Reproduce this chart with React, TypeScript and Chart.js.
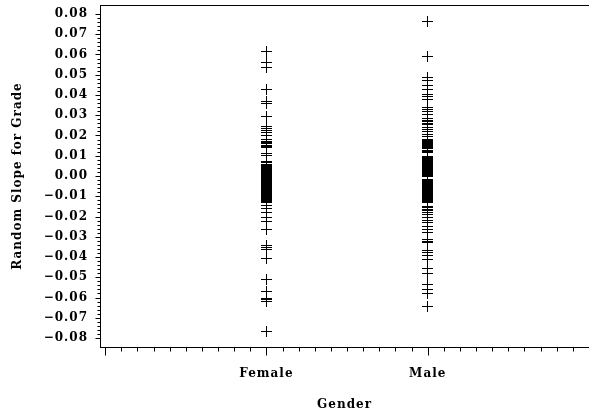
import React, { useEffect, useRef } from "react";
import { Chart, registerables } from "chart.js";

Chart.register(...registerables);

const CATEGORIES = ["Female", "Male"];
const X_TICKS = [1, 2];
const Y_TICKS = [-0.08, -0.07, -0.06, -0.05, -0.04, -0.03, -0.02, -0.01, 0.0, 0.01, 0.02, 0.03, 0.04, 0.05, 0.06, 0.07, 0.08];

const FEMALE = [
  0.0613, 0.0561, 0.0538, 0.0425, 0.0366, 0.036, 0.0296, 0.0245, 0.0236, 0.0226, 0.0213, 0.0198,
  0.018, 0.0172, 0.0165, 0.0159, 0.0152, 0.0146, 0.0141, 0.0111, 0.0101, 0.0072, 0.0066, 0.0058,
  0.0052, 0.0047, 0.0043, 0.0038, 0.0033, 0.0029, 0.0024, 0.0019, 0.0015, 0.001, 0.0006, 0.0001,
  -0.0004, -0.0008, -0.0013, -0.0018, -0.0022, -0.0027, -0.0031, -0.0036, -0.0041, -0.0045, -0.005,
  -0.0055, -0.0059, -0.0064, -0.0069, -0.0073, -0.0078, -0.0083, -0.0087, -0.0092, -0.0097, -0.0101,
  -0.0106, -0.0111, -0.0115, -0.012, -0.0125, -0.0131, -0.0146, -0.0162, -0.0178, -0.0207, -0.0224,
  -0.0262, -0.0344, -0.0352, -0.0364, -0.0405, -0.0513, -0.0571, -0.0603, -0.0612, -0.062, -0.0769,
];

const MALE = [
  0.0762, 0.059, 0.0486, 0.047, 0.0448, 0.0428, 0.0404, 0.0395, 0.0379, 0.0338, 0.033, 0.0318,
  0.0305, 0.0282, 0.0275, 0.0268, 0.026, 0.0255, 0.024, 0.0228, 0.0218, 0.0207, 0.0196,
  0.018, 0.0175, 0.017, 0.0165, 0.016, 0.0154, 0.0149, 0.0144, 0.0139, 0.0134, 0.0128, 0.0122, 0.0116,
  0.0098, 0.0092, 0.0087, 0.0082, 0.0077, 0.0072, 0.0067, 0.0062, 0.0057, 0.0052, 0.0047, 0.0042,
  0.0037, 0.0032, 0.0027, 0.0022, 0.0017, 0.0012, 0.0007, 0.0002, -0.0003, -0.0017, -0.0022, -0.0027,
  -0.0032, -0.0037, -0.0042, -0.0047, -0.0052, -0.0057, -0.0062, -0.0067, -0.0072, -0.0077, -0.0082,
  -0.0087, -0.0092, -0.0097, -0.0102, -0.0107, -0.0112, -0.0117, -0.0122, -0.0127, -0.0131,
  -0.015, -0.0156, -0.0163, -0.017, -0.0178, -0.0192, -0.0205, -0.022, -0.0232, -0.0249, -0.0265,
  -0.028, -0.0315, -0.0322, -0.033, -0.037, -0.038, -0.0392, -0.041, -0.0455, -0.048, -0.0537,
  -0.0562, -0.0578, -0.0645,
];

const FONT = { family: "'DejaVu Serif', serif", size: 12, weight: "bold" as const };

function makePlus(): HTMLCanvasElement {
  const c = document.createElement("canvas");
  c.width = 11;
  c.height = 11;
  const g = c.getContext("2d")!;
  g.fillStyle = "#000";
  g.fillRect(0, 5, 11, 1);
  g.fillRect(5, 0, 1, 11);
  return c;
}

const axisPlugin = {
  id: "sasAxes",
  beforeDraw(chart: any) {
    chart.ctx.letterSpacing = "1px";
  },
  beforeDatasetsDraw(chart: any) {
    chart.ctx.imageSmoothingEnabled = false;
  },
  afterDraw(chart: any) {
    const { ctx, chartArea, scales } = chart;
    const ys = scales.y;
    const xs = scales.x;
    ctx.save();
    ctx.strokeStyle = "#000";
    ctx.lineWidth = 1;
    ctx.beginPath();
    const top = Math.round(chartArea.top) + 0.5;
    ctx.moveTo(chartArea.left, top);
    ctx.lineTo(chartArea.right, top);
    const left = Math.round(chartArea.left) + 0.5;
    for (let k = -40; k <= 40; k++) {
      const py = Math.round(ys.getPixelForValue(k / 500)) + 0.5;
      const len = k % 5 === 0 ? 5 : 3;
      ctx.moveTo(left - len, py);
      ctx.lineTo(left, py);
    }
    const bottom = Math.round(chartArea.bottom) + 0.5;
    for (let k = 0; k <= 30; k++) {
      const px = Math.round(xs.getPixelForValue(k / 10)) + 0.5;
      const len = k % 10 === 0 ? 8 : 4;
      ctx.moveTo(px, bottom);
      ctx.lineTo(px, bottom + len);
    }
    ctx.stroke();
    ctx.restore();
  },
};

export default function App() {
  const ref = useRef<HTMLCanvasElement>(null);
  useEffect(() => {
    if (!ref.current) return;
    const plus = makePlus();
    const pointOpts = {
      pointStyle: plus,
      pointRadius: 5,
      pointHoverRadius: 5,
      pointBorderWidth: 1,
      borderColor: "#000",
      backgroundColor: "#000",
      showLine: false,
    };
    const chart = new Chart(ref.current, {
      type: "scatter",
      data: {
        datasets: [
          { label: CATEGORIES[0], data: FEMALE.map((y) => ({ x: X_TICKS[0], y })), ...pointOpts },
          { label: CATEGORIES[1], data: MALE.map((y) => ({ x: X_TICKS[1], y })), ...pointOpts },
        ],
      },
      options: {
        animation: false,
        responsive: false,
        devicePixelRatio: 1,
        layout: { autoPadding: false, padding: { top: 5, left: 0, right: 0, bottom: 0 } },
        plugins: { legend: { display: false }, tooltip: { enabled: false } },
        events: [],
        scales: {
          x: {
            type: "linear",
            min: -0.032,
            max: 3,
            afterBuildTicks: (s: any) => {
              s.ticks = X_TICKS.map((value) => ({ value }));
            },
            afterFit: (s: any) => {
              s.height = 70;
              s.paddingLeft = 0;
              s.paddingRight = 0;
            },
            grid: { display: true, drawOnChartArea: false, drawTicks: false },
            border: { display: true, color: "#000", width: 1 },
            ticks: {
              color: "#000",
              font: FONT,
              padding: 20,
              maxRotation: 0,
              autoSkip: false,
              callback: (v: any) => CATEGORIES[X_TICKS.indexOf(Number(v))] ?? "",
            },
            title: { display: true, text: "Gender", color: "#000", font: FONT, padding: { top: 0, bottom: 5 } },
          },
          y: {
            type: "linear",
            min: -0.08444,
            max: 0.08444,
            afterBuildTicks: (s: any) => {
              s.ticks = Y_TICKS.map((value) => ({ value }));
            },
            afterFit: (s: any) => {
              s.width = 100;
              s.paddingTop = 0;
              s.paddingBottom = 0;
            },
            grid: { display: true, drawOnChartArea: false, drawTicks: false },
            border: { display: true, color: "#000", width: 1 },
            ticks: {
              color: "#000",
              font: FONT,
              padding: 12,
              autoSkip: false,
              callback: (v: any) => {
                const s = Number(v).toFixed(2);
                return s === "-0.00" ? "0.00" : s.replace("-", "\u2212");
              },
            },
            title: { display: true, text: "Random Slope for Grade", color: "#000", font: FONT, padding: { top: 11, bottom: 0 } },
          },
        },
      },
      plugins: [axisPlugin],
    } as any);
    return () => chart.destroy();
  }, []);
  return (
    <div style={{ position: "absolute", left: 0, top: 0, width: 589, height: 417, background: "#fff" }}>
      <canvas ref={ref} width={589} height={417} />
    </div>
  );
}
